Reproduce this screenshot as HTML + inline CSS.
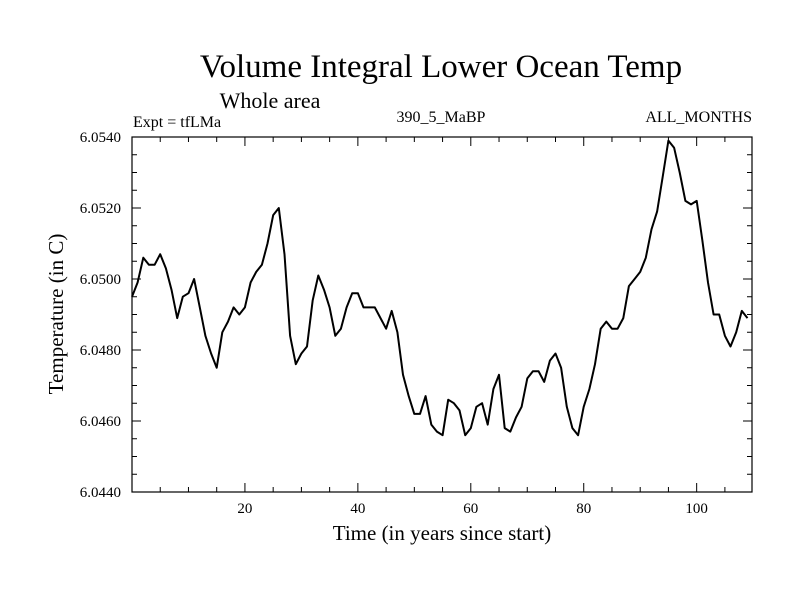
<!DOCTYPE html>
<html><head><meta charset="utf-8"><style>
body{margin:0;background:#fff}
svg text{font-family:"Liberation Serif",serif;fill:#000}
</style></head><body>
<svg id="chart" width="800" height="600" xmlns="http://www.w3.org/2000/svg">
<text x="441" y="77" font-size="33" text-anchor="middle">Volume Integral Lower Ocean Temp</text>
<text x="270" y="108" font-size="22" text-anchor="middle">Whole area</text>
<text x="133" y="127" font-size="16">Expt = tfLMa</text>
<text x="441" y="122" font-size="16" text-anchor="middle">390_5_MaBP</text>
<text x="752" y="122" font-size="16" text-anchor="end">ALL_MONTHS</text>
<text x="442" y="540" font-size="21" text-anchor="middle">Time (in years since start)</text>
<text x="0" y="0" font-size="21" text-anchor="middle" transform="translate(63,314) rotate(-90)">Temperature (in C)</text>
<g id="axes"></g>
<path id="series" fill="none" stroke="#000" stroke-width="2" stroke-linejoin="round"/>
<rect x="132" y="137" width="620" height="355" fill="none" stroke="#000" stroke-width="1.2"/>
</svg>
<script>
const temps = [6.0495,6.0499,6.0506,6.0504,6.0504,6.0507,6.0503,6.0497,6.0489,6.0495,6.0496,6.0500,6.0492,6.0484,6.0479,6.0475,6.0485,6.0488,6.0492,6.0490,6.0492,6.0499,6.0502,6.0504,6.0510,6.0518,6.0520,6.0507,6.0484,6.0476,6.0479,6.0481,6.0494,6.0501,6.0497,6.0492,6.0484,6.0486,6.0492,6.0496,6.0496,6.0492,6.0492,6.0492,6.0489,6.0486,6.0491,6.0485,6.0473,6.0467,6.0462,6.0462,6.0467,6.0459,6.0457,6.0456,6.0466,6.0465,6.0463,6.0456,6.0458,6.0464,6.0465,6.0459,6.0469,6.0473,6.0458,6.0457,6.0461,6.0464,6.0472,6.0474,6.0474,6.0471,6.0477,6.0479,6.0475,6.0464,6.0458,6.0456,6.0464,6.0469,6.0476,6.0486,6.0488,6.0486,6.0486,6.0489,6.0498,6.0500,6.0502,6.0506,6.0514,6.0519,6.0529,6.0539,6.0537,6.0530,6.0522,6.0521,6.0522,6.0511,6.0499,6.0490,6.0490,6.0484,6.0481,6.0485,6.0491,6.0489];
const xTicks = [20,40,60,80,100];
const yTicks = [6.0440,6.0460,6.0480,6.0500,6.0520,6.0540];
const xDomain = [0,109.8];
const yDomain = [6.0440,6.0540];
const L=132,R=752,T=137,B=492;
const sx=v=>L+(v-xDomain[0])/(xDomain[1]-xDomain[0])*(R-L);
const sy=v=>B-(v-yDomain[0])/(yDomain[1]-yDomain[0])*(B-T);
const NS="http://www.w3.org/2000/svg";
const g=document.getElementById('axes');
function line(x1,y1,x2,y2){const l=document.createElementNS(NS,'line');l.setAttribute('x1',x1);l.setAttribute('y1',y1);l.setAttribute('x2',x2);l.setAttribute('y2',y2);l.setAttribute('stroke','#000');l.setAttribute('stroke-width','1');


g.appendChild(l);}
for(let v=5;v<xDomain[1];v+=5){const x=sx(v);const len=(v%20===0)?9:5;line(x,B,x,B-len);line(x,T,x,T+len);}
for(let i=0;i<=20;i++){const v=yDomain[0]+i*0.0005;const y=sy(v);const len=(i%4===0)?9:5;line(L,y,L+len,y);line(R,y,R-len,y);}
xTicks.forEach(v=>{const t=document.createElementNS(NS,'text');t.setAttribute('x',sx(v));t.setAttribute('y',513);t.setAttribute('font-size','15');t.setAttribute('text-anchor','middle');t.textContent=v;


g.appendChild(t);});
yTicks.forEach(v=>{const t=document.createElementNS(NS,'text');t.setAttribute('x',121);t.setAttribute('y',sy(v)+5);t.setAttribute('font-size','15');t.setAttribute('text-anchor','end');t.textContent=v.toFixed(4);


g.appendChild(t);});
document.getElementById('series').setAttribute('d',temps.map((v,i)=>(i?'L':'M')+sx(i).toFixed(1)+','+sy(v).toFixed(1)).join(''));
</script>
</body></html>
